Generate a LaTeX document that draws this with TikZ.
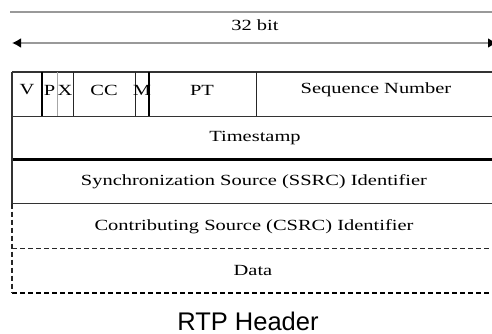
\documentclass[tikz,border=0pt]{standalone}
\usepackage{fontspec}
\usepackage{graphicx}
\setmainfont{Liberation Serif}
\newfontfamily\hdrfont{Liberation Sans}
\usetikzlibrary{arrows.meta}
\newcommand\widetxt[1]{\scalebox{1.32}[1]{#1}}
\begin{document}
\begin{tikzpicture}[x=1pt,y=-1pt,
  cell/.style={font=\fontsize{15.5}{17}\selectfont, inner sep=0pt, anchor=center},
  rule/.style={line width=1.2pt, black!80},
  thickrule/.style={line width=2.4pt, black},
  thinrule/.style={line width=0.9pt, black!85},
  grayrule/.style={line width=1pt, black!35},
  dashrule/.style={line width=1.1pt, black!85, dash pattern=on 5pt off 3pt},
  dimline/.style={line width=2.2pt, black!40},
]
\useasboundingbox (0,0) rectangle (492,334);
\begin{scope}
\clip (0,0) rectangle (492,334);
% top rule and width arrow
\coordinate (tl) at (10,12);
\coordinate (tr) at (500,12);
\draw[line width=1.6pt, black!40] (tl) -- (tr);
\coordinate (aL) at (12,43);
\coordinate (aR) at (497,43);
\draw[dimline, {Latex[black,length=9pt,width=10pt]}-{Latex[black,length=9pt,width=10pt]}] (aL) -- (aR);
\node[cell] (bits) at (255,25) {\widetxt{32 bit}};
% table frame
\coordinate (t0) at (12,72);   \coordinate (t0r) at (497,72);
\coordinate (t1) at (12,116.5);\coordinate (t1r) at (497,116.5);
\coordinate (t2) at (12,159.5);\coordinate (t2r) at (497,159.5);
\coordinate (t3) at (12,203.5);\coordinate (t3r) at (497,203.5);
\coordinate (t4) at (12,248.5);\coordinate (t4r) at (497,248.5);
\coordinate (t5) at (12,293);  \coordinate (t5r) at (497,293);
\draw[rule] (t0) -- (t0r);
\draw[rule] (t1) -- (t1r);
\draw[thickrule] (t2) -- (t2r);
\draw[rule] (t3) -- (t3r);
\draw[dashrule] (t4) -- (t4r);
\draw[dashrule, line width=1.8pt, black] (t5) -- (t5r);
\draw[rule] (t0) -- (t3);
\draw[dashrule] (t3) -- (t5);
% first row columns
\draw[thickrule, line width=1.8pt] (42,72) -- (42,116.5);
\draw[grayrule] (57,72) -- (57,116.5);
\draw[thinrule] (73,72) -- (73,116.5);
\draw[thinrule] (135,72) -- (135,116.5);
\draw[thickrule, line width=1.8pt] (149,72) -- (149,116.5);
\draw[thinrule] (256,72) -- (256,116.5);
\end{scope}
% labels
\node[cell] (v)   at (27,90)  {\widetxt{V}};
\node[cell] (p)   at (49.5,90) {\widetxt{P}};
\node[cell] (x)   at (65,90)  {\widetxt{X}};
\node[cell] (cc)  at (104,90) {\widetxt{CC}};
\node[cell] (m)   at (142,90) {\widetxt{M}};
\node[cell] (pt)  at (202,90) {\widetxt{PT}};
\node[cell] (seq) at (376,90) {\widetxt{Sequence Number}};
\node[cell] (ts)  at (255,138) {\widetxt{Timestamp}};
\node[cell] (ssrc) at (254,182) {\widetxt{Synchronization Source (SSRC) Identifier}};
\node[cell] (csrc) at (254,227) {\widetxt{Contributing Source (CSRC) Identifier}};
\node[cell] (data) at (253,270) {\widetxt{Data}};
\node[font=\hdrfont\fontsize{25.5}{28}\selectfont, inner sep=0pt] (cap) at (248,321) {RTP Header};
\end{tikzpicture}
\end{document}
